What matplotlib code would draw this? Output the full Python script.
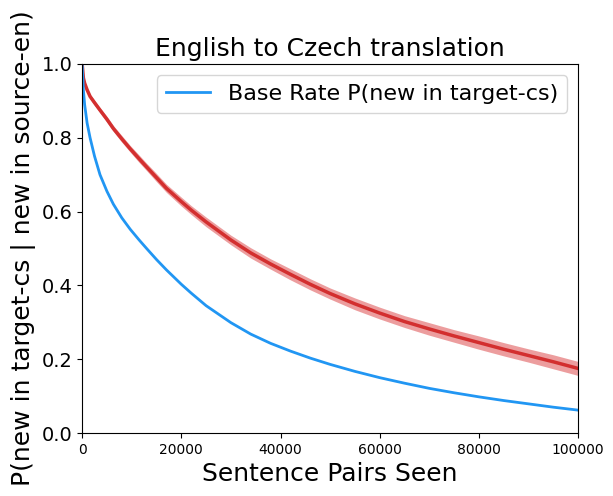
import numpy as np
import matplotlib
matplotlib.use("Agg")
import matplotlib.pyplot as plt

# values
pairs_seen = [0, 250, 500, 1000, 1600, 2500, 3600, 5000, 6300, 8000, 9700, 11500,
              13000, 15000, 17000, 20000, 22000, 25000, 30000, 34000, 38000, 42000,
              46000, 50000, 55000, 60000, 65000, 70000, 75000, 80000, 85000, 90000,
              95000, 100000]
base_rate = [1.00, 0.93, 0.89, 0.84, 0.80, 0.75, 0.70, 0.655, 0.62, 0.583, 0.552, 0.523,
             0.50, 0.47, 0.442, 0.403, 0.379, 0.345, 0.299, 0.268, 0.243, 0.222,
             0.203, 0.186, 0.167, 0.150, 0.135, 0.121, 0.109, 0.098, 0.088, 0.079,
             0.070, 0.062]
cond_mean = [1.00, 0.962, 0.948, 0.93, 0.912, 0.895, 0.875, 0.85, 0.825, 0.797, 0.77, 0.743,
             0.721, 0.692, 0.663, 0.627, 0.604, 0.572, 0.523, 0.488, 0.458, 0.43,
             0.403, 0.378, 0.35, 0.325, 0.302, 0.282, 0.263, 0.245, 0.227, 0.21,
             0.193, 0.175]
cond_spread = [0.0, 0.004, 0.005, 0.006, 0.006, 0.007, 0.007, 0.008, 0.008, 0.009, 0.009, 0.010,
               0.010, 0.011, 0.011, 0.012, 0.012, 0.013, 0.013, 0.014, 0.014, 0.015,
               0.015, 0.015, 0.016, 0.016, 0.016, 0.017, 0.017, 0.018, 0.018, 0.018,
               0.019, 0.019]

def main():
    fig = plt.figure(figsize=(6.13, 4.96), dpi=100)
    ax = fig.add_axes([0.134, 0.127, 0.809, 0.744])

    lo = np.array(cond_mean) - np.array(cond_spread)
    hi = np.array(cond_mean) + np.array(cond_spread)
    ax.fill_between(pairs_seen, lo, hi, color='#d62728', alpha=0.45, linewidth=0)
    ax.plot(pairs_seen, cond_mean, color='#d32f2f', linewidth=2.5)
    ax.plot(pairs_seen, base_rate, color='#2196f3', linewidth=2,
            label='Base Rate P(new in target-cs)')

    ax.set_xlim(0, 100000)
    ax.set_ylim(0, 1.0)
    ax.set_title('English to Czech translation', fontsize=18)
    ax.set_xlabel('Sentence Pairs Seen', fontsize=18)
    ax.set_ylabel('P(new in target-cs | new in source-en)', fontsize=18)
    ax.tick_params(axis='y', labelsize=14)
    ax.tick_params(axis='x', labelsize=10)
    ax.legend(loc='upper right', fontsize=16)

    fig.savefig('out.png', dpi=100)

if __name__ == "__main__":
    main()
